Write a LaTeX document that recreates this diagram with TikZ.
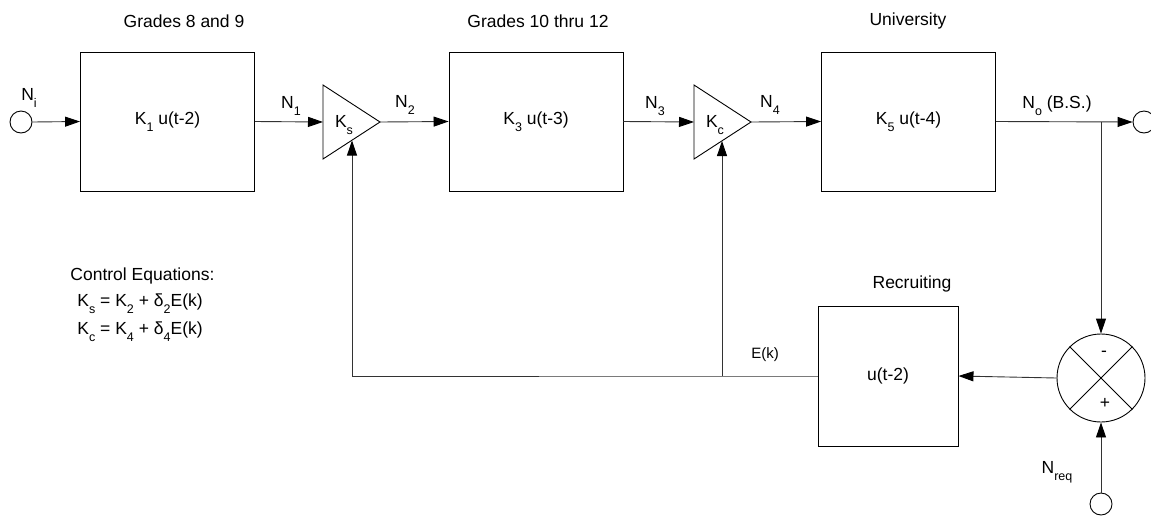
\documentclass[tikz,border=0pt]{standalone}
\usepackage{fontspec}
\setmainfont{Liberation Sans}
\usetikzlibrary{arrows.meta,shapes.geometric}
\newcommand\sbs[1]{\raisebox{-0.75ex}{\fontsize{12.5}{13}\selectfont #1}}
\begin{document}
\begin{tikzpicture}[x=1pt,y=-1pt, line width=0.9pt,
 blk/.style={draw, minimum width=174pt, minimum height=139pt, inner sep=0pt, font=\fontsize{17.5}{20}\selectfont},
 lbl/.style={font=\fontsize{17.5}{20}\selectfont, inner sep=0pt},
 port/.style={draw, circle, minimum size=22pt, inner sep=0pt},
 con/.style={draw=black!80},
 arr/.style={con, -{Triangle[length=15pt,width=10pt,color=black,fill=black]}}]
\useasboundingbox (0,0) rectangle (1151,515);
% blocks
\node[blk] (b1) at (167.5,121.5) {K\sbs{1} u(t-2)};
\node[blk] (b2) at (536,121.5) {K\sbs{3} u(t-3)};
\node[blk] (b3) at (908.5,121.5) {K\sbs{5} u(t-4)};
\node[blk, minimum width=140pt, minimum height=140pt] (rec) at (888,376) {u(t-2)};
% titles
\node[lbl] (t1) at (184,21) {Grades 8 and 9};
\node[lbl] (t2) at (538,21) {Grades 10 thru 12};
\node[lbl] (t3) at (908,21) {University};
\node[lbl] (t4) at (912,284) {Recruiting};
% ports
\node[port] (in) at (21,122) {};
\node[port] (out) at (1144,122) {};
\node[port] (req) at (1101,504) {};
% summing junction
\node[draw, circle, minimum size=88pt, inner sep=0pt] (sum) at (1101,378) {};
\draw (sum.45) -- (sum.225);
\draw (sum.135) -- (sum.315);
\node[lbl] (minus) at (1104,354) {-};
\node[lbl] (plus) at (1105,403) {+};
% gains (triangles)
\coordinate (ksA) at (323,85);
\coordinate (ksB) at (323,159);
\coordinate (ksT) at (380,122);
\coordinate (ksI) at (323,122);
\coordinate (ksb) at (352,140.5);
\draw (ksA) -- (ksT) -- (ksB) -- cycle;
\node[lbl] (ksl) at (344,125) {K\sbs{s}};
\coordinate (kcA) at (694,85);
\coordinate (kcB) at (694,159);
\coordinate (kcT) at (751,122);
\coordinate (kcI) at (694,122);
\coordinate (kcb) at (722,141);
\draw (kcA) -- (kcT) -- (kcB) -- cycle;
\node[lbl] (kcl) at (715,125) {K\sbs{c}};
% forward path
\draw[arr] (in.east) -- (b1.west);
\draw[arr] (b1.east) -- (ksI);
\draw[arr] (ksT) -- (b2.west);
\draw[arr] (b2.east) -- (kcI);
\draw[arr] (kcT) -- (b3.west);
\draw[arr] (b3.east) -- (out.west);
% signal labels
\node[lbl] (lni) at (29,98) {N\sbs{i}};
\node[lbl] (ln1) at (291,106) {N\sbs{1}};
\node[lbl] (ln2) at (405,105) {N\sbs{2}};
\node[lbl] (ln3) at (655,106) {N\sbs{3}};
\node[lbl] (ln4) at (770,105) {N\sbs{4}};
\node[lbl] (lno) at (1057,106) {N\sbs{o} (B.S.)};
\node[lbl] (lnr) at (1057,472) {N\sbs{req}};
% feedback
\coordinate (br) at (1101,122);
\coordinate (fbK) at (722,376);
\coordinate (fbS) at (352,376);
\draw[arr] (br) -- (sum.north);
\draw[arr] (sum.west) -- (rec.east);
\draw[arr] (req.north) -- (sum.south);
\draw[con] (rec.west) -- (fbK) -- (fbS);
\draw[arr] (fbS) -- (ksb);
\draw[arr] (fbK) -- (kcb);
\node[font=\fontsize{15}{17}\selectfont, inner sep=0pt] (ek) at (765,355) {E(k)};
% control equations
\node[lbl, anchor=west] (ce) at (70,276) {Control Equations:};
\node[lbl, anchor=west] (ce1) at (77,304) {K\sbs{s} = K\sbs{2} + δ\sbs{2}E(k)};
\node[lbl, anchor=west] (ce2) at (77,332) {K\sbs{c} = K\sbs{4} + δ\sbs{4}E(k)};
\end{tikzpicture}
\end{document}
